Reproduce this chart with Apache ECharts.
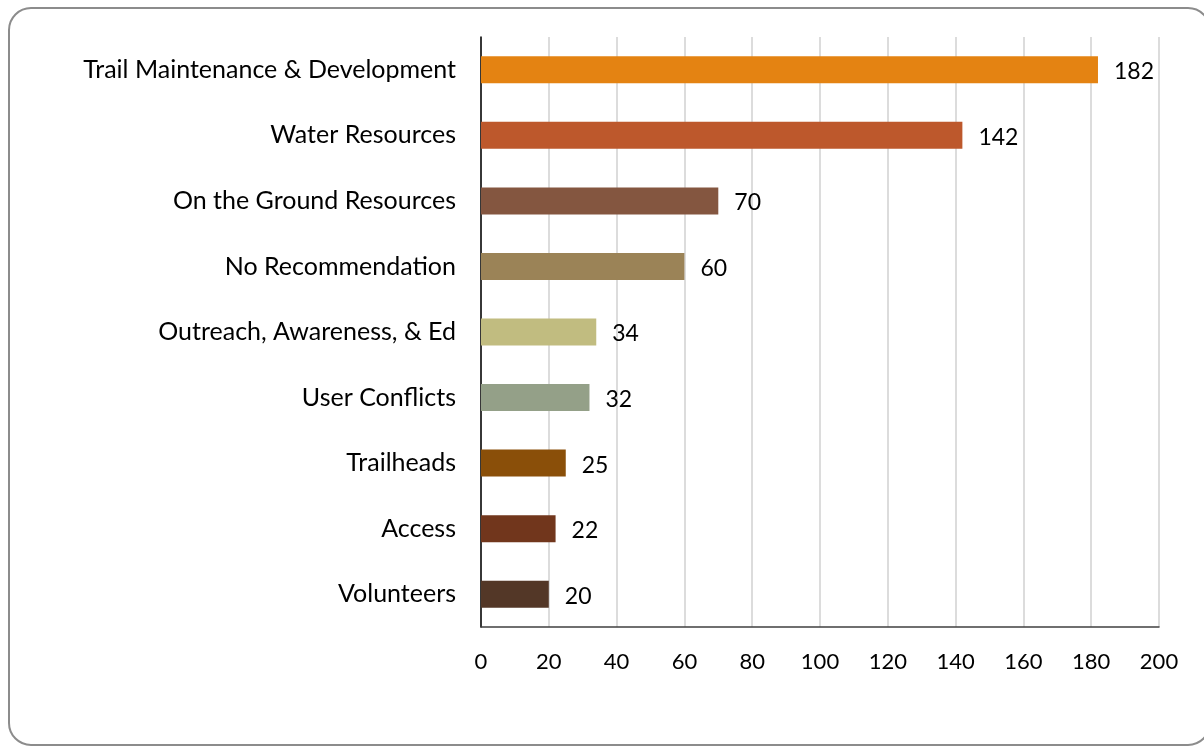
<!DOCTYPE html>
<html>
<head>
<meta charset="utf-8">
<script src="https://cdn.jsdelivr.net/npm/echarts@6/dist/echarts.min.js"></script>
<style>html,body{margin:0;padding:0;background:#fff}#c{width:1204px;height:747px}</style>
</head>
<body>
<div id="c"></div>
<script>
const categories = ["Trail Maintenance & Development","Water Resources","On the Ground Resources","No Recommendation","Outreach, Awareness, & Ed","User Conflicts","Trailheads","Access","Volunteers"];
const values = [182,142,70,60,34,32,25,22,20];
const barColors = ["#E48312","#BD582C","#845640","#9B8357","#C1BC80","#94A088","#8A4F09","#71361C","#533727"];
const xTicks = {min:0, max:200, interval:20};

const chart = echarts.init(document.getElementById('c'), null, {renderer:'canvas'});
const FONT = 'Lato';
chart.setOption({
  animation:false,
  backgroundColor:'#fff',
  graphic:[{type:'rect', shape:{x:9,y:8,width:1201,height:737,r:22}, style:{fill:'none',stroke:'#8c8c8c',lineWidth:2}, z:-1}],
  grid:{left:481,right:45,top:37,bottom:120,containLabel:false},
  xAxis:{type:'value',min:xTicks.min,max:xTicks.max,interval:xTicks.interval,
    axisLine:{show:true,lineStyle:{color:'#404040',width:1.5}},
    axisTick:{show:false},
    splitLine:{show:true,lineStyle:{color:'#d0d0d0',width:1.5}},
    axisLabel:{color:'#000',fontFamily:FONT,fontSize:22,margin:24}},
  yAxis:{type:'category',data:categories,inverse:true,
    axisLine:{show:true,lineStyle:{color:'#000',width:1.5}},
    axisTick:{show:false},
    axisLabel:{color:'#000',fontFamily:FONT,fontSize:25,margin:25}},
  series:[{type:'bar',barWidth:27,
    data:values.map((v,i)=>({value:v,itemStyle:{color:barColors[i]}})),
    label:{show:true,position:'right',distance:16,color:'#000',fontFamily:FONT,fontSize:23,offset:[0,2]}}]
});
</script>
</body>
</html>
